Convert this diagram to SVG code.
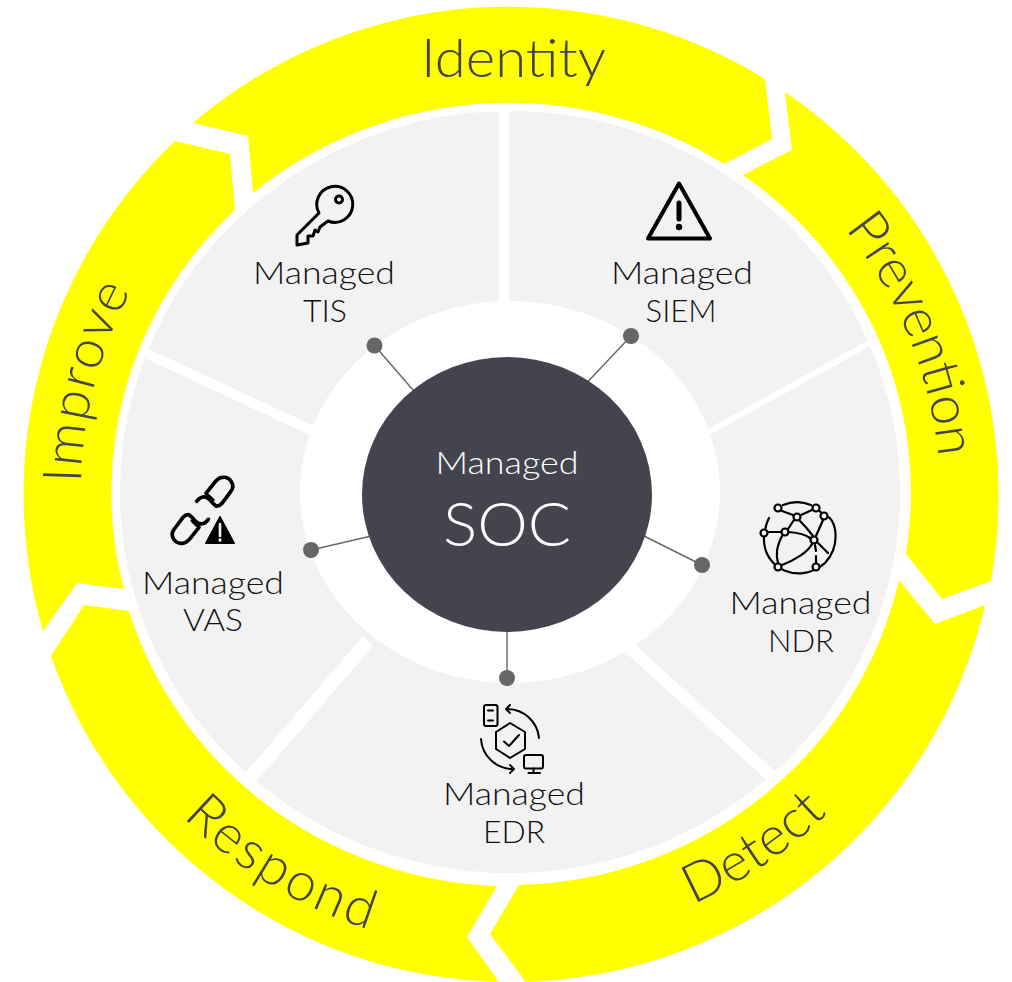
<svg xmlns="http://www.w3.org/2000/svg" width="1012" height="982" viewBox="0 0 1012 982">
<style>
.band{fill:#ffff00}
.bl{font-family:"Lato","Liberation Sans",sans-serif;font-weight:300;font-size:54px;fill:#44444f}
.ml{font-family:"Lato","Liberation Sans",sans-serif;font-weight:300;font-size:31px;fill:#111;text-anchor:middle}
.div{stroke:#fff;fill:none}
.ic{fill:none;stroke:#000;stroke-linecap:round;stroke-linejoin:round}
.dot{fill:#666}
.cn{stroke:#666;stroke-width:1.4}
</style>
<defs>
<path id="pPrev" d="M845 229A431 431 0 0 1 933 580"/>
<path id="pImp" d="M81 483A431 431 0 0 1 170 230"/>
<path id="pDet" d="M693 904A450 450 0 0 0 850 790"/>
<path id="pRes" d="M183 817A458 458 0 0 0 400 938"/>
</defs>
<rect width="1012" height="982" fill="#fff"/>
<g id="ring">
<path fill="#f2f2f2" fill-rule="evenodd" d="M120 492A390 381 0 0 1 900 492A390 381 0 0 1 120 492ZM300 492A210 191 0 0 0 720 492A210 191 0 0 0 300 492Z"/>
<line class="div" x1="504" y1="105" x2="504" y2="305" stroke-width="10.5"/>
<line class="div" x1="875" y1="340" x2="705" y2="434" stroke-width="6"/>
<line class="div" x1="135" y1="348" x2="315" y2="432" stroke-width="10"/>
<line class="div" x1="368" y1="641" x2="246" y2="783" stroke-width="14"/>
<line class="div" x1="625" y1="644" x2="778" y2="782" stroke-width="12"/>
</g>
<g id="identity">
<path class="band" d="M193 123L248 136L253 193A400 390 0 0 1 724 164L772 139L765 79A488 488 0 0 0 193 123Z"/>
<text class="bl" x="421" y="77" textLength="185" lengthAdjust="spacingAndGlyphs">Identity</text>
</g>
<g id="prevention">
<path class="band" d="M785 92L792 150L743 175A400 390 0 0 1 906 554L942 599L991 581A488 488 0 0 0 785 92Z"/>
<text class="bl"><textPath href="#pPrev" textLength="250" lengthAdjust="spacing">Prevention</textPath></text>
</g>
<g id="detect">
<path class="band" d="M985 605L935 624L899 580A400 390 0 0 1 519 885L490 934L526 982A488 488 0 0 0 985 605Z"/>
<text class="bl"><textPath href="#pDet" textLength="163" lengthAdjust="spacing">Detect</textPath></text>
</g>
<g id="respond">
<path class="band" d="M499 982L467 937L497 886A400 390 0 0 1 129 611L84 605L51 656A488 488 0 0 0 499 982Z"/>
<text class="bl"><textPath href="#pRes" textLength="219" lengthAdjust="spacing">Respond</textPath></text>
</g>
<g id="improve">
<path class="band" d="M43 631L77 583L124 589A400 390 0 0 1 235 210L230 154L175 141A488 488 0 0 0 43 631Z"/>
<text class="bl"><textPath href="#pImp" textLength="200" lengthAdjust="spacing">Improve</textPath></text>
</g>
<g id="connectors">
<line class="cn" x1="374.500" y1="345.500" x2="420" y2="398"/>
<line class="cn" x1="631" y1="336" x2="580" y2="390"/>
<line class="cn" x1="702" y1="565" x2="630" y2="529"/>
<line class="cn" x1="507" y1="678" x2="507" y2="625"/>
<line class="cn" x1="311" y1="550" x2="380" y2="534"/>
<circle class="dot" cx="374.500" cy="345.500" r="8"/>
<circle class="dot" cx="631" cy="336" r="8"/>
<circle class="dot" cx="702" cy="565" r="8"/>
<circle class="dot" cx="507" cy="678" r="8"/>
<circle class="dot" cx="311" cy="550" r="8"/>
</g>
<g id="soc">
<ellipse cx="507" cy="494.500" rx="145" ry="137.500" fill="#44444f"/>
<text class="ml" x="507" y="473.500" textLength="143" lengthAdjust="spacingAndGlyphs" style="fill:#fff">Managed</text>
<text class="ml" x="507" y="546" textLength="128" lengthAdjust="spacingAndGlyphs" style="fill:#fff;font-size:62px">SOC</text>
</g>
<g id="tis">
<g class="ic" stroke-width="3">
<path d="M319 213A18 18 0 1 1 328 221L320 227L318 232L315 230L313 236L308 236L308 243L297 245L297 235Z"/>
<circle cx="339" cy="199.500" r="3.500"/>
</g>
<text class="ml" x="324" y="283.500" textLength="142" lengthAdjust="spacingAndGlyphs">Managed</text>
<text class="ml" x="325" y="321.500" textLength="44" lengthAdjust="spacingAndGlyphs">TIS</text>
</g>
<g id="siem">
<path class="ic" stroke-width="4" d="M679 183.500L710 238.500L648 238.500Z"/>
<line class="ic" x1="679" y1="203" x2="679" y2="219" stroke-width="5"/>
<circle cx="679" cy="227" r="3.200"/>
<text class="ml" x="682" y="283.500" textLength="142" lengthAdjust="spacingAndGlyphs">Managed</text>
<text class="ml" x="681" y="321.500" textLength="71" lengthAdjust="spacingAndGlyphs">SIEM</text>
</g>
<g id="ndr">
<g class="ic" stroke-width="2.200">
<path d="M769 518A35 35 0 0 0 765 535M764 536C762 570 800 585 825 563C842 545 836 515 824 516M824 516A35 35 0 0 0 816 508M811 505A38 38 0 0 0 783 505"/>
<path d="M769 532L781 532M789 532C800 533 806 535 810 538M782 536C776 548 776 555 778 563M782 565C795 560 808 552 812 544M782 511L793 515M801 515L812 510M800 521C806 527 810 532 813 536M816 536L823 520M818 543L828 553M815 545L816 551M816 556L816 563M788 529L794 520"/>
<g fill="#f2f2f2"><circle cx="778" cy="508" r="3.500"/><circle cx="816" cy="508" r="3.500"/><circle cx="797" cy="517" r="3.500"/><circle cx="824" cy="516" r="3.500"/><circle cx="764" cy="533" r="3.500"/><circle cx="785" cy="532" r="3.500"/><circle cx="814" cy="540" r="3.500"/><circle cx="778" cy="567" r="3.500"/><circle cx="816" cy="567" r="3.500"/></g>
</g>
<text class="ml" x="800.500" y="613.500" textLength="142" lengthAdjust="spacingAndGlyphs">Managed</text>
<text class="ml" x="801" y="651.500" textLength="66" lengthAdjust="spacingAndGlyphs">NDR</text>
</g>
<g id="edr">
<g class="ic" stroke-width="2">
<rect x="484" y="705" width="13.500" height="21" rx="2"/>
<path d="M488 710.500H493M488 720.500H493"/>
<path d="M539 738A32 32 0 0 0 507 709M510 705L506 709L510 713"/>
<path d="M481 739A32 32 0 0 0 513 769M510 765L514 769L510 773"/>
<path d="M510 723L525 732V749L510 758L496 749V732Z"/>
<path d="M504 741.500L509 746L519 735"/>
<rect x="524" y="755" width="19" height="13.500" rx="2"/>
<path d="M533.500 768.500V773M528.500 773H540"/>
</g>
<text class="ml" x="514" y="804.500" textLength="142" lengthAdjust="spacingAndGlyphs">Managed</text>
<text class="ml" x="514" y="842.500" textLength="62" lengthAdjust="spacingAndGlyphs">EDR</text>
</g>
<g id="vas">
<g transform="translate(150 460) scale(.3333)">
<path class="ic" stroke-width="11" d="M140 124C150 110 165 105 178 118C184 125 190 132 198 138C206 140 212 134 216 130L242 95C258 75 240 50 218 52C208 52 200 60 195 66L168 100"/>
<path class="ic" stroke-width="8" d="M168 102C176 104 182 112 190 120"/>
<path class="ic" stroke-width="11" d="M175 178C165 192 150 197 137 184C131 177 125 170 117 164C109 162 103 168 99 172L73 207C57 227 75 252 97 250C107 250 115 242 120 236L147 202"/>
<path class="ic" stroke-width="8" d="M147 200C139 198 133 190 125 182"/>
<path d="M210 170L253 250H167Z" stroke="#000" stroke-width="4" stroke-linejoin="round"/>
<path d="M210 192V228" stroke="#f2f2f2" stroke-width="8" stroke-linecap="round"/>
<circle cx="210" cy="240" r="5" fill="#f2f2f2"/>
</g>
<text class="ml" x="213" y="593.500" textLength="142" lengthAdjust="spacingAndGlyphs">Managed</text>
<text class="ml" x="213" y="630.500" textLength="60" lengthAdjust="spacingAndGlyphs">VAS</text>
</g>
</svg>
